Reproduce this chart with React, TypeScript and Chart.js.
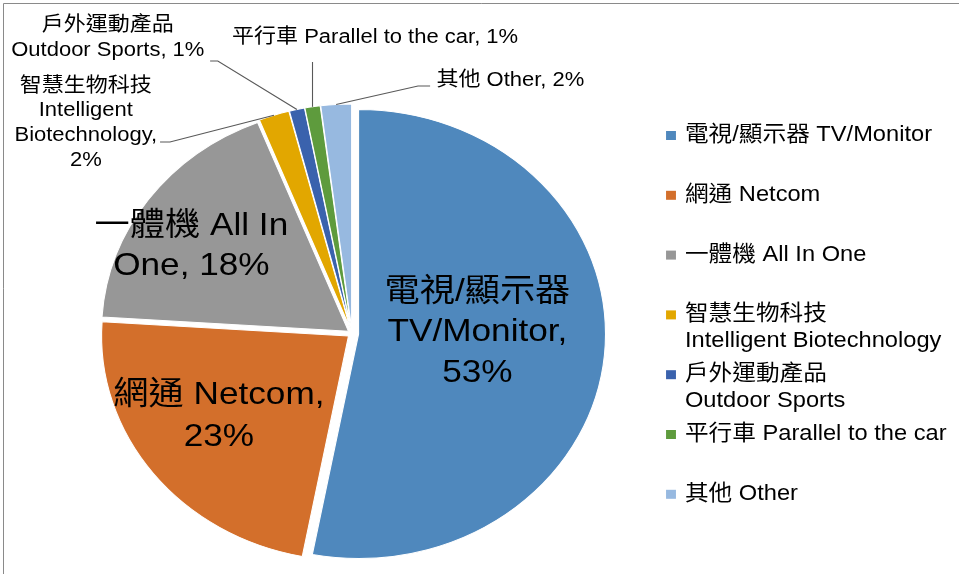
import { useEffect, useRef } from "react";
import { Chart, registerables, ArcElement } from "chart.js";

Chart.register(...registerables);

// ---- data ----
const categories = [
  "電視/顯示器 TV/Monitor",
  "網通 Netcom",
  "一體機 All In One",
  "智慧生物科技 Intelligent Biotechnology",
  "戶外運動產品 Outdoor Sports",
  "平行車 Parallel to the car",
  "其他 Other",
];
const shares = [53, 23, 18, 2, 1, 1, 2];
const legendLines = [
  ["電視/顯示器 TV/Monitor"],
  ["網通 Netcom"],
  ["一體機 All In One"],
  ["智慧生物科技", "Intelligent Biotechnology"],
  ["戶外運動產品", "Outdoor Sports"],
  ["平行車 Parallel to the car"],
  ["其他 Other"],
];
// label lines; the value ("53%") is appended to the last line
const labelLines = [
  ["電視/顯示器", "TV/Monitor,", ""],
  ["網通 Netcom,", ""],
  ["一體機 All In", "One, "],
  ["智慧生物科技", "Intelligent", "Biotechnology,", ""],
  ["戶外運動產品", "Outdoor Sports, "],
  ["平行車 Parallel to the car, "],
  ["其他 Other, "],
];

// ---- styles / layout ----
const sliceColors = ["#4F88BD", "#D36F2B", "#979797", "#E2A700", "#3A62AD", "#5E9B3D", "#97B9E0"];
const explode = [6, 4, 4, 5, 5, 5, 5];
const X_STRETCH = 1.1;
const FONT = '"Liberation Sans", "Noto Sans CJK TC", sans-serif';

type Layout = {
  x: number;
  y: number;
  size: number;
  lh: number;
  leader?: number[][];
  leaderVerticalTo?: number;
};
const labelLayout: Layout[] = [
  { x: 434, y: 292, size: 32, lh: 40.5 },
  { x: 199, y: 395, size: 32, lh: 42 },
  { x: 174, y: 226, size: 32, lh: 40 },
  { x: 78, y: 86, size: 20, lh: 24.7, leader: [[145.5, 142], [154.5, 142]] },
  { x: 98, y: 25, size: 20, lh: 25, leader: [[191, 61], [198, 61]] },
  { x: 341, y: 37, size: 20, lh: 25, leaderVerticalTo: 62 },
  { x: 464, y: 80, size: 20, lh: 25, leader: [[391, 86], [380, 86]] },
];
const legendX = 605.5;
const legendTextX = 622.7;
const legendTop = 135;
const legendStep = 59.8;
const legendLineGap = 27;
const legendFont = 21.5;

const decorPlugin = {
  id: "decor",
  afterDatasetUpdate(_chart: any, args: any) {
    args.meta.data.forEach((el: any, i: number) => {
      if (el.__exploded) return;
      el.__exploded = true;
      el.draw = function (ctx: CanvasRenderingContext2D) {
        const mid = (this.startAngle + this.endAngle) / 2;
        const d = explode[i] || 0;
        ctx.save();
        ctx.translate(Math.cos(mid) * d, Math.sin(mid) * d);
        ArcElement.prototype.draw.call(this, ctx);
        ctx.restore();
      };
    });
  },
  beforeDraw(chart: any) {
    chart.ctx.save();
    chart.ctx.scale(X_STRETCH, 1);
  },
  afterDraw(chart: any) {
    const ctx: CanvasRenderingContext2D = chart.ctx;
    const meta = chart.getDatasetMeta(0);
    ctx.fillStyle = "#000";
    ctx.textBaseline = "middle";
    meta.data.forEach((arc: any, i: number) => {
      const L = labelLayout[i];
      const lines = labelLines[i].slice();
      lines[lines.length - 1] = lines[lines.length - 1] + shares[i] + "%";
      ctx.font = `${L.size}px ${FONT}`;
      ctx.textAlign = "center";
      lines.forEach((t, j) => ctx.fillText(t, L.x, L.y + j * L.lh));
      const mid = (arc.startAngle + arc.endAngle) / 2;
      const r = arc.outerRadius + (explode[i] || 0);
      const px = arc.x + Math.cos(mid) * r;
      const py = arc.y + Math.sin(mid) * r;
      let pts: number[][] | null = null;
      if (L.leader) pts = [...L.leader, [px, py]];
      else if (L.leaderVerticalTo !== undefined) pts = [[px, L.leaderVerticalTo], [px, py]];
      if (pts) {
        ctx.save();
        ctx.strokeStyle = "#595959";
        ctx.lineWidth = 1;
        ctx.beginPath();
        ctx.moveTo(pts[0][0], pts[0][1]);
        for (let k = 1; k < pts.length; k++) ctx.lineTo(pts[k][0], pts[k][1]);
        ctx.stroke();
        ctx.restore();
      }
    });
    // legend
    ctx.font = `${legendFont}px ${FONT}`;
    ctx.textAlign = "left";
    legendLines.forEach((lines, i) => {
      const y0 = legendTop + i * legendStep;
      ctx.fillStyle = sliceColors[i];
      ctx.fillRect(legendX, y0 - 4, 9, 9);
      ctx.fillStyle = "#000";
      lines.forEach((t, j) => ctx.fillText(t, legendTextX, y0 + j * legendLineGap));
    });
    ctx.restore();
    // frame
    ctx.save();
    ctx.strokeStyle = "#8a8a8a";
    ctx.lineWidth = 1;
    ctx.beginPath();
    ctx.moveTo(3.5, chart.height);
    ctx.lineTo(3.5, 3.5);
    ctx.lineTo(chart.width, 3.5);
    ctx.stroke();
    ctx.restore();
  },
};

export default function App() {
  const ref = useRef<HTMLCanvasElement>(null);
  useEffect(() => {
    document.body.style.margin = "0";
    const canvas = ref.current;
    if (!canvas) return;
    const chart = new Chart(canvas, {
      type: "pie",
      data: {
        labels: categories,
        datasets: [
          {
            data: shares,
            backgroundColor: sliceColors,
            borderColor: "#ffffff",
            borderWidth: 1,
            clip: false,
          } as any,
        ],
      },
      options: {
        animation: false,
        responsive: false,
        radius: 224.5,
        events: [],
        layout: { padding: { left: 0, right: 319, top: 93, bottom: 0 } },
        plugins: { legend: { display: false }, tooltip: { enabled: false } },
      } as any,
      plugins: [decorPlugin],
    });
    return () => chart.destroy();
  }, []);
  return (
    <div style={{ width: 959, height: 574, position: "relative", background: "#fff" }}>
      <canvas ref={ref} width={959} height={574} style={{ display: "block" }} />
    </div>
  );
}
